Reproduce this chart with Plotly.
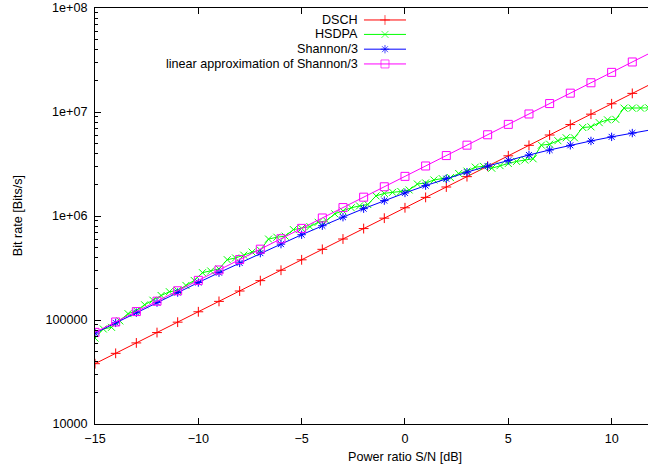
import plotly.graph_objects as go

# ---------------- data ----------------
snr_db = [-15, -14, -13, -12, -11, -10, -9, -8, -7, -6, -5, -4, -3, -2, -1, 0,
          1, 2, 3, 4, 5, 6, 7, 8, 9, 10, 11, 12]

dsch = [38000, 47800, 60200, 75700, 95300, 120000, 151000, 190000, 239000, 301000,
        379000, 478000, 601000, 757000, 953000, 1200000, 1510000, 1900000, 2390000,
        3010000, 3790000, 4780000, 6010000, 7570000, 9530000, 12000000, 15100000,
        19000000]

shannon3 = [74860, 93870, 117600, 147100, 183800, 229200, 285100, 353800, 439800,
            536400, 660700, 806200, 974400, 1176200, 1405700, 1666700, 1959400,
            2283500, 2637800, 3020400, 3429000, 3860800, 4313000, 4783100, 5268000,
            5765700, 6274000, 6791000]

linear_approx = [76040, 95730, 120500, 151700, 191000, 240450, 302700, 381100, 479800,
                 604000, 760400, 957300, 1205100, 1517100, 1910000, 2404500, 3027000,
                 3811000, 4798000, 6040000, 7604000, 9573000, 12051000, 15171000,
                 19100000, 24045000, 30270000, 38110000]

hsdpa_db = [-15.0, -14.6, -14.2, -13.8, -13.4, -13.0, -12.6, -12.2, -11.8, -11.4,
            -11.0, -10.6, -10.2, -9.8, -9.4, -9.0, -8.6, -8.2, -7.8, -7.4, -7.0,
            -6.6, -6.2, -5.8, -5.4, -5.0, -4.6, -4.2, -3.8, -3.4, -3.0, -2.6, -2.2,
            -1.8, -1.4, -1.0, -0.6, -0.2, 0.2, 0.6, 1.0, 1.4, 1.8, 2.2, 2.6, 3.0,
            3.4, 3.8, 4.2, 4.6, 5.0, 5.4, 5.8, 6.2, 6.6, 7.0, 7.4, 7.8, 8.2, 8.6,
            9.0, 9.4, 9.8, 10.2, 10.6, 11.0, 11.4, 11.8]
hsdpa = [67000, 82000, 85000, 98000, 115000, 123000, 140000, 155000, 172000, 187000,
         192000, 215000, 240000, 285000, 296000, 310000, 380000, 395000, 420000,
         450000, 470000, 600000, 625000, 640000, 740000, 760000, 790000, 870000,
         900000, 1050000, 1120000, 1200000, 1250000, 1290000, 1560000, 1650000,
         1690000, 1720000, 1780000, 2030000, 2080000, 2220000, 2290000, 2340000,
         2560000, 2700000, 2950000, 3000000, 2880000, 3050000, 3200000, 3350000,
         3450000, 3550000, 4800000, 4900000, 5300000, 5650000, 5650000, 7100000,
         7200000, 7900000, 8400000, 8500000, 10900000, 10900000, 10900000, 10950000]

series_names = ["DSCH", "HSDPA", "Shannon/3", "linear approximation of Shannon/3"]
series_colors = ["#ff0000", "#00ff00", "#0000ff", "#ff00ff"]
series_symbols = ["cross-thin-open", "x-thin-open", "asterisk-open", "square-open"]
series_sizes = [7, 7, 7, 8]

y_tickvals = [1e4, 1e5, 1e6, 1e7, 1e8]
y_ticktext = ["10000", "100000", "1e+06", "1e+07", "1e+08"]
x_tickvals = [-15, -10, -5, 0, 5, 10]

FONT = "Liberation Sans, Arial, Helvetica, sans-serif"
FS = 12.6

xs = [snr_db, hsdpa_db, snr_db, snr_db]
ys = [dsch, hsdpa, shannon3, linear_approx]

fig = go.Figure()
for name, x, y, c, s, sz in zip(series_names, xs, ys, series_colors, series_symbols, series_sizes):
    fig.add_trace(go.Scatter(
        x=x, y=y, mode="lines+markers", name=name, showlegend=False,
        line=dict(color=c, width=1),
        marker=dict(symbol=s, size=sz, color=c, line=dict(color=c, width=1)),
    ))

# custom gnuplot-style legend (text right-aligned, sample on the right)
leg_rows = [0.9712, 0.9365, 0.9010, 0.8655]
lx0, lxm, lx1, ltext = 0.4864, 0.5244, 0.5624, 0.4792
for name, c, s, sz, ry in zip(series_names, series_colors, series_symbols, series_sizes, leg_rows):
    fig.add_trace(go.Scatter(
        x=[lx0, lxm, lx1], y=[ry, ry, ry], xaxis="x2", yaxis="y2",
        mode="lines+markers", showlegend=False, hoverinfo="skip",
        line=dict(color=c, width=1),
        marker=dict(symbol=s, size=[0, sz, 0], color=c, line=dict(color=c, width=1)),
    ))
    fig.add_annotation(x=ltext, y=ry, xref="paper", yref="paper", text=name,
                       showarrow=False, xanchor="right", yanchor="middle",
                       font=dict(family=FONT, size=FS, color="black"))

fig.add_annotation(x=(405 - 95) / 553, y=-0.0793, xref="paper", yref="paper",
                   text="Power ratio S/N [dB]",
                   showarrow=False, xanchor="center", yanchor="middle",
                   font=dict(family=FONT, size=FS, color="black"))
fig.add_annotation(x=-0.139, y=0.5, xref="paper", yref="paper", text="Bit rate [Bits/s]",
                   showarrow=False, xanchor="center", yanchor="middle", textangle=-90,
                   font=dict(family=FONT, size=FS, color="black"))

fig.update_layout(
    width=648, height=473,
    margin=dict(l=95, r=0, t=8, b=49),
    paper_bgcolor="white", plot_bgcolor="white",
    font=dict(family=FONT, size=FS, color="black"),
    showlegend=False,
    xaxis=dict(range=[-15, 11.76], tickvals=x_tickvals, ticks="inside", ticklen=6,
               tickcolor="black", showline=True, linecolor="black", linewidth=1,
               mirror="ticks", showgrid=False, zeroline=False, ticklabelstandoff=3,
               tickfont=dict(family=FONT, size=FS)),
    yaxis=dict(type="log", range=[4, 8], tickvals=y_tickvals, ticktext=y_ticktext,
               ticks="inside", ticklen=6, tickcolor="black", showline=True,
               linecolor="black", linewidth=1, mirror=False, showgrid=False,
               zeroline=False, ticklabelstandoff=4,
               minor=dict(ticks="inside", ticklen=3, tickcolor="black", dtick="D1",
                          showgrid=False),
               tickfont=dict(family=FONT, size=FS)),
    xaxis2=dict(range=[0, 1], overlaying="x", visible=False, fixedrange=True),
    yaxis2=dict(range=[0, 1], overlaying="y", visible=False, fixedrange=True),
)

fig.write_html("out.html", config={"displayModeBar": False},
               post_script="document.body.style.margin='0';")
